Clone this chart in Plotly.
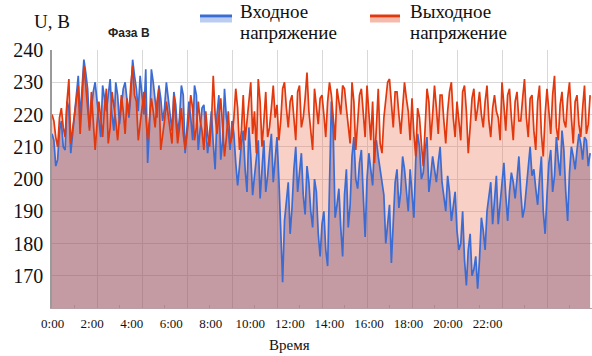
import plotly.graph_objects as go

# ---- data: 5-minute samples over 24 h (values in volts) ----
step_minutes = 5
input_voltage = [
    214, 212, 204, 206, 215, 218, 210, 209, 224, 222, 208, 214,
    220, 226, 232, 219, 229, 237, 233, 228, 216, 222, 227, 230,
    224, 218, 213, 229, 225, 221, 226, 231, 220, 215, 230, 226,
    217, 222, 228, 230, 224, 219, 226, 237, 232, 228, 221, 232,
    226, 220, 234, 205, 216, 234, 230, 224, 219, 229, 225, 218,
    222, 230, 225, 221, 215, 227, 223, 214, 219, 229, 226, 208,
    215, 224, 219, 212, 229, 226, 209, 217, 222, 223, 216, 208,
    214, 221, 211, 203, 220, 226, 206, 212, 228, 219, 215, 209,
    218, 214, 205, 198, 204, 211, 215, 203, 196, 216, 207, 195,
    201, 207, 212, 194, 203, 212, 196, 201, 208, 214, 199, 205,
    213, 200, 186, 168, 187, 193, 199, 183, 191, 203, 210, 196,
    201, 208, 195, 189, 204, 199, 190, 185, 200, 196, 183, 176,
    186, 190, 178, 173, 198, 224, 214, 188, 192, 197, 185, 176,
    195, 203, 185, 192, 207, 213, 200, 197, 205, 209, 195, 182,
    200, 208, 203, 198, 211, 212, 207, 203, 200, 195, 180, 186,
    192, 174, 185, 199, 203, 191, 196, 207, 203, 197, 190, 203,
    196, 188, 206, 214, 210, 200, 202, 209, 213, 196, 201, 207,
    203, 199, 205, 210, 199, 194, 190, 201, 196, 187, 192, 196,
    184, 178, 180, 190, 175, 167, 178, 183, 170, 172, 176, 166,
    175, 188, 184, 178, 190, 195, 199, 186, 194, 201, 186, 193,
    198, 205, 195, 187, 196, 202, 199, 194, 200, 207, 196, 188,
    191, 198, 205, 210, 201, 203, 197, 192, 200, 207, 190, 183,
    195, 205, 209, 196, 201, 213, 206, 201, 215, 209, 196, 187,
    202, 210, 207, 203, 209, 214, 211, 206, 213, 212, 204, 208,
]
output_voltage = [
    220, 218, 213, 210, 219, 222, 216, 213, 224, 231, 211, 216,
    221, 224, 229, 214, 226, 235, 229, 221, 215, 227, 218, 209,
    217, 224, 219, 213, 222, 228, 211, 216, 227, 223, 218, 212,
    219, 226, 221, 214, 225, 220, 229, 235, 226, 224, 212, 218,
    222, 227, 218, 212, 219, 225, 221, 216, 224, 228, 209, 213,
    218, 224, 220, 215, 211, 226, 219, 211, 216, 222, 214, 209,
    214, 219, 226, 222, 212, 216, 224, 218, 215, 209, 221, 214,
    210, 217, 232, 220, 214, 219, 225, 216, 207, 213, 221, 211,
    213, 219, 228, 222, 209, 215, 226, 212, 218, 224, 230, 214,
    221, 208, 231, 224, 210, 218, 227, 213, 216, 222, 229, 219,
    223, 212, 218, 228, 230, 222, 216, 224, 226, 219, 212, 227,
    229, 216, 219, 225, 233, 221, 214, 209, 228, 222, 217, 225,
    226, 220, 213, 224, 230, 226, 218, 212, 228, 223, 220, 229,
    228, 222, 216, 211, 230, 224, 209, 218, 226, 228, 219, 213,
    229, 221, 212, 224, 205, 216, 228, 211, 208, 219, 224, 230,
    231, 223, 216, 227, 227, 220, 214, 222, 230, 225, 221, 212,
    225, 214, 207, 222, 219, 211, 204, 216, 228, 224, 212, 220,
    229, 222, 214, 226, 226, 218, 211, 221, 227, 230, 219, 213,
    224, 218, 212, 227, 229, 221, 208, 216, 225, 228, 218, 222,
    227, 220, 216, 224, 229, 218, 213, 222, 226, 221, 219, 212,
    230, 223, 215, 226, 228, 219, 212, 224, 227, 218, 218, 225,
    231, 219, 213, 225, 226, 215, 209, 224, 229, 214, 207, 220,
    228, 221, 214, 226, 232, 216, 212, 223, 227, 218, 216, 225,
    230, 219, 211, 224, 226, 217, 213, 222, 229, 214, 217, 226,
]
hours = [i * step_minutes / 60 for i in range(len(input_voltage))]

x_tick_hours = [0, 2, 4, 6, 8, 10, 12, 14, 16, 18, 20, 22]
x_tick_labels = ["0:00", "2:00", "4:00", "6:00", "8:00", "10:00", "12:00",
                 "14:00", "16:00", "18:00", "20:00", "22:00"]
y_ticks = [170, 180, 190, 200, 210, 220, 230, 240]

legend_in = ["Входное", "напряжение"]
legend_out = ["Выходное", "напряжение"]
y_title = "U, B"
x_title = "Время"
phase_label = "Фаза B"

BLUE = "#3a6cd4"
RED = "#e2380e"
SERIF = "Liberation Serif, Times New Roman, serif"

# ---- figure ----
W, H = 592, 356
L, R, T, B = 52, 0, 50, 48
PW, PH = W - L - R, H - T - B

def px(x):
    return (x - L) / PW

def py(y):
    return (H - B - y) / PH

fig = go.Figure()
fig.add_trace(go.Scatter(x=hours, y=output_voltage, mode="lines", line=dict(width=0),
                         fill="tozeroy", fillcolor="rgba(235,120,90,0.35)",
                         hoverinfo="skip", showlegend=False))
fig.add_trace(go.Scatter(x=hours, y=input_voltage, mode="lines", line=dict(width=0),
                         fill="tozeroy", fillcolor="rgba(99,57,100,0.35)",
                         hoverinfo="skip", showlegend=False))
fig.add_trace(go.Scatter(x=hours, y=input_voltage, mode="lines",
                         line=dict(color=BLUE, width=1.7), name="Входное напряжение",
                         showlegend=False))
fig.add_trace(go.Scatter(x=hours, y=output_voltage, mode="lines",
                         line=dict(color=RED, width=1.7), name="Выходное напряжение",
                         showlegend=False))
# invisible trace so the label axis is drawn
fig.add_trace(go.Scatter(x=[None], y=[None], xaxis="x2", showlegend=False, hoverinfo="skip"))

fig.update_layout(
    width=W, height=H,
    margin=dict(l=L, r=R, t=T, b=B, autoexpand=False),
    paper_bgcolor="white", plot_bgcolor="white",
    showlegend=False,
    xaxis=dict(range=[0, 24], dtick=2, tick0=0, showticklabels=False, automargin=False,
               showgrid=True, gridcolor="#d8d8d8", gridwidth=1,
               showline=True, linecolor="#b9a0a6", linewidth=1,
               zeroline=False, ticks="",
               minor=dict(dtick=1, ticks="inside", ticklen=3, tickcolor="#b08890")),
    xaxis2=dict(overlaying="x", anchor="y", side="bottom", automargin=False,
                range=[-0.03, 27.28], tickmode="array", tickvals=x_tick_hours,
                ticktext=x_tick_labels, showgrid=False, zeroline=False,
                showline=False, ticks="", ticklabelstandoff=6,
                tickfont=dict(family=SERIF, size=13, color="#111")),
    yaxis=dict(range=[160, 240], tickmode="array", tickvals=y_ticks, automargin=False,
               showgrid=True, gridcolor="#d8d8d8", gridwidth=1,
               showline=True, linecolor="#9a9a9a", linewidth=1.5,
               zeroline=False, ticks="", ticklabelstandoff=3,
               tickfont=dict(family=SERIF, size=20, color="#111")),
)

fig.add_annotation(x=px(52), y=py(21), xref="paper", yref="paper", text=y_title,
                   showarrow=False, xanchor="center", yanchor="middle",
                   font=dict(family=SERIF, size=19, color="#111"))
fig.add_annotation(x=px(129), y=py(33), xref="paper", yref="paper", text="<b>" + phase_label + "</b>",
                   showarrow=False, xanchor="center", yanchor="middle",
                   font=dict(family="Liberation Sans, Arial, sans-serif", size=12, color="#222"))
fig.add_annotation(x=px(289), y=py(345), xref="paper", yref="paper", text=x_title,
                   showarrow=False, xanchor="center", yanchor="middle",
                   font=dict(family=SERIF, size=15, color="#111"))

leg_font = dict(family=SERIF, size=19, color="#111")
for x_left, lines in [(238, legend_in), (408, legend_out)]:
    for y_c, txt in zip([12, 32], lines):
        fig.add_annotation(x=px(x_left), y=py(y_c), xref="paper", yref="paper", text=txt,
                           showarrow=False, xanchor="left", yanchor="middle", align="left",
                           font=leg_font)

# legend samples
for x0, x1, col, band in [(200, 232, BLUE, "rgba(58,108,212,0.35)"),
                          (370, 400, RED, "rgba(226,56,14,0.35)")]:
    fig.add_shape(type="line", xref="paper", yref="paper", x0=px(x0), x1=px(x1),
                  y0=py(20), y1=py(20), line=dict(color=band, width=5))
    fig.add_shape(type="line", xref="paper", yref="paper", x0=px(x0), x1=px(x1),
                  y0=py(16), y1=py(16), line=dict(color=col, width=3))

fig.write_html("out.html", config={"displayModeBar": False},
               post_script="document.body.style.margin='0';document.body.style.overflow='hidden';")
